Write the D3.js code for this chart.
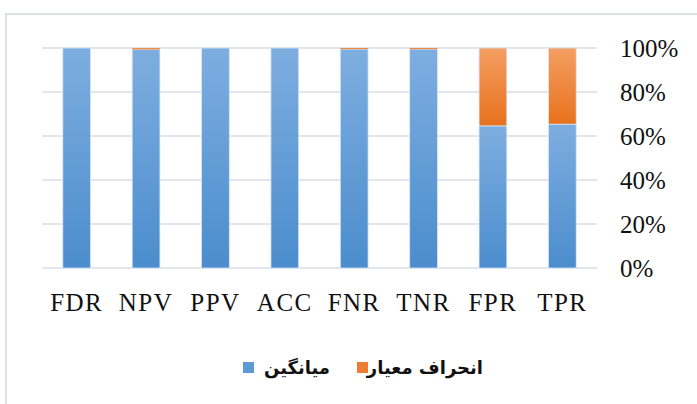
<!DOCTYPE html>
<html lang="en">
<head>
    <meta charset="utf-8">
    <style>
        body { margin: 0; background: #fff; }
        .grid line { stroke: #e3e7ec; stroke-width: 2; }
        .tick-label { font-family: "Liberation Serif", serif; font-size: 25px; fill: #111; }
        .legend-label { font-family: "DejaVu Sans", sans-serif; font-size: 18px; font-weight: bold; fill: #111; }
    </style>
</head>
<body>
<svg id="mainSVG" width="697" height="404"></svg>
<script src="https://cdn.jsdelivr.net/npm/d3@7"></script>
<script>

    // categories on the x axis
    var categories = ["FDR", "NPV", "PPV", "ACC", "FNR", "TNR", "FPR", "TPR"];
    // share of each bar (100% stacked)
    var meanShare = [1.00, 0.994, 1.00, 1.00, 0.995, 0.995, 0.646, 0.654];
    var stdShare = [0.00, 0.006, 0.00, 0.00, 0.005, 0.005, 0.354, 0.346];
    var yTicks = [0, 0.2, 0.4, 0.6, 0.8, 1.0];
    var seriesNames = ["میانگین", "انحراف معیار"];

    var svg = d3.select("#mainSVG");

    // chart frame
    svg.append("rect")
        .attr("x", 6).attr("y", 14)
        .attr("width", 720).attr("height", 420)
        .attr("fill", "none")
        .attr("stroke", "#dde1e6")
        .attr("stroke-width", 2);

    var x = d3.scaleBand()
        .domain(categories)
        .range([42, 597])
        .paddingInner(0.6)
        .paddingOuter(0.3);

    var y = d3.scaleLinear()
        .domain([0, 1])
        .range([268, 48]);

    // gradients
    var defs = svg.append("defs");
    function grad(id, top, bottom) {
        var g = defs.append("linearGradient").attr("id", id)
            .attr("x1", 0).attr("y1", 0).attr("x2", 0).attr("y2", 1);
        g.append("stop").attr("offset", "0%").attr("stop-color", top);
        g.append("stop").attr("offset", "100%").attr("stop-color", bottom);
    }
    grad("gBlue", "#7eaee0", "#4b8dcd");
    grad("gOrange", "#f49e62", "#e8721d");

    // gridlines
    svg.append("g")
        .attr("class", "grid")
        .selectAll("line")
        .data(yTicks)
        .enter().append("line")
        .attr("x1", 42).attr("x2", 597)
        .attr("y1", function (d) { return y(d); })
        .attr("y2", function (d) { return y(d); });

    // right axis labels
    var yAxis = svg.append("g")
        .attr("transform", "translate(620,0)")
        .call(d3.axisRight(y)
            .tickValues(yTicks)
            .tickSize(0)
            .tickPadding(0)
            .tickFormat(d3.format(".0%")));
    yAxis.select(".domain").remove();
    yAxis.selectAll("text")
        .attr("class", "tick-label")
        .attr("font-family", null).attr("font-size", null)
        .attr("fill", null)
        .attr("text-anchor", "start")
        .attr("dy", "0.34em");

    // bottom axis labels
    var xAxis = svg.append("g")
        .attr("transform", "translate(0,275)")
        .call(d3.axisBottom(x).tickSize(0).tickPadding(0));
    xAxis.select(".domain").remove();
    xAxis.selectAll("text")
        .attr("class", "tick-label")
        .attr("font-family", null).attr("font-size", null)
        .attr("fill", null)
        .attr("letter-spacing", "1.5px")
        .attr("dy", "1.45em");

    // stacked bars
    var rows = categories.map(function (c, i) {
        return { cat: c, mean: meanShare[i], std: stdShare[i] };
    });
    var stack = d3.stack().keys(["mean", "std"])(rows);
    var fills = ["url(#gBlue)", "url(#gOrange)"];

    svg.append("g")
        .selectAll("g")
        .data(stack)
        .enter().append("g")
        .attr("fill", function (d, i) { return fills[i]; })
        .selectAll("rect")
        .data(function (d) { return d; })
        .enter().append("rect")
        .attr("x", function (d) { return x(d.data.cat); })
        .attr("width", x.bandwidth())
        .attr("y", function (d) { return y(d[1]); })
        .attr("height", function (d) { return Math.max(0, y(d[0]) - y(d[1])); })
        .attr("stroke", function (d) { return d[1] - d[0] < 0.02 ? "none" : "#d6e6f6"; })
        .attr("stroke-width", 0.8);

    // legend
    var legend = svg.append("g");
    legend.append("rect")
        .attr("x", 243).attr("y", 362).attr("width", 11).attr("height", 11)
        .attr("fill", "#5b9bd5");
    legend.append("text")
        .attr("class", "legend-label")
        .attr("x", 330).attr("y", 374)
        .attr("text-anchor", "end")
        .text(seriesNames[0]);
    legend.append("rect")
        .attr("x", 357).attr("y", 362).attr("width", 11).attr("height", 11)
        .attr("fill", "#ed7d31");
    legend.append("text")
        .attr("class", "legend-label")
        .attr("x", 483).attr("y", 374)
        .attr("text-anchor", "end")
        .text(seriesNames[1]);

</script>
</body>
</html>
